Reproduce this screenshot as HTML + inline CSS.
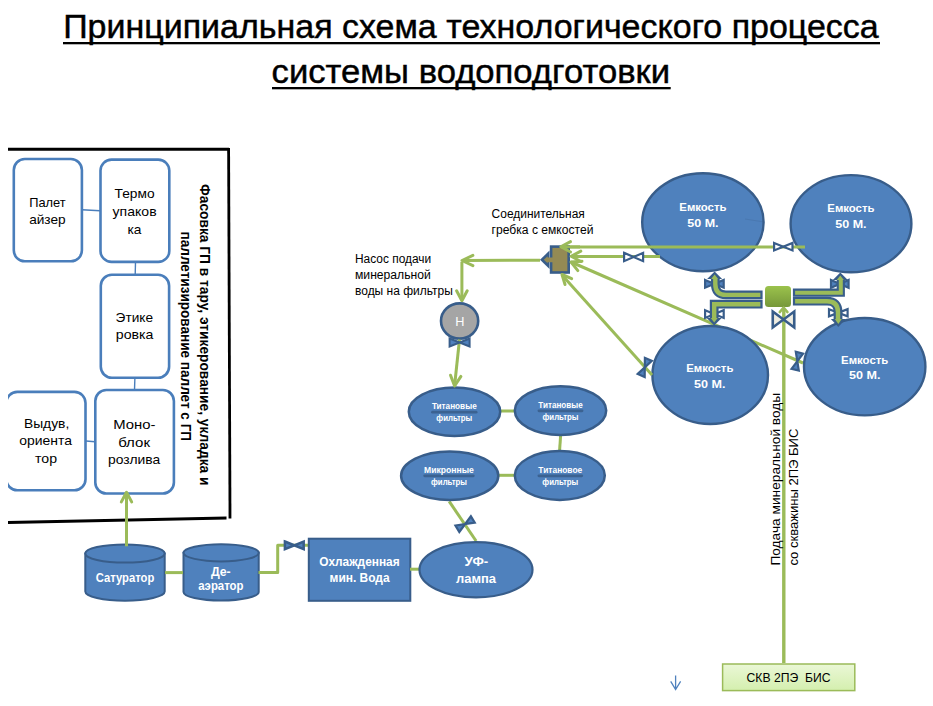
<!DOCTYPE html><html><head><meta charset="utf-8"><style>html,body{margin:0;padding:0;background:#fff;width:933px;height:706px;overflow:hidden;position:relative}text{font-family:"Liberation Sans",sans-serif;white-space:pre}</style></head><body><svg width="933" height="706" viewBox="0 0 933 706" style="position:absolute;left:0;top:0">
<defs><linearGradient id="gsq" x1="0" y1="0" x2="0" y2="1"><stop offset="0" stop-color="#9bc24c"/><stop offset="1" stop-color="#76983a"/></linearGradient><linearGradient id="gskv" x1="0" y1="0" x2="0" y2="1"><stop offset="0" stop-color="#eaf7d6"/><stop offset="1" stop-color="#d4efae"/></linearGradient><clipPath id="clipL"><rect x="8" y="0" width="300" height="706"/></clipPath></defs>
<g font-family="Liberation Sans, sans-serif">
<text x="63.2" y="38.3" font-size="33" font-weight="normal" fill="#000" text-anchor="start" textLength="815.5" lengthAdjust="spacingAndGlyphs" stroke="#000" stroke-width="0.45">Принципиальная схема технологического процесса</text>
<rect x="63" y="42" width="817" height="2.3" fill="#000"/>
<text x="271.6" y="83.2" font-size="33" font-weight="normal" fill="#000" text-anchor="start" textLength="398.5" lengthAdjust="spacingAndGlyphs" stroke="#000" stroke-width="0.45">системы водоподготовки</text>
<rect x="272" y="87" width="398.7" height="2.3" fill="#000"/>
<line x1="8" y1="149.3" x2="229" y2="149.3" stroke="#000" stroke-width="3"/>
<line x1="228.6" y1="148" x2="230" y2="518.5" stroke="#000" stroke-width="2.8"/>
<line x1="8" y1="522.4" x2="226.5" y2="518" stroke="#000" stroke-width="3"/>
<line x1="82" y1="209.8" x2="100" y2="210.8" stroke="#4a7ebb" stroke-width="1.4"/>
<line x1="135.5" y1="262" x2="135.2" y2="275" stroke="#4a7ebb" stroke-width="1.4"/>
<line x1="134.9" y1="378" x2="134.5" y2="390" stroke="#4a7ebb" stroke-width="1.4"/>
<line x1="86" y1="441" x2="95" y2="441.8" stroke="#4a7ebb" stroke-width="1.4"/>
<rect x="13.8" y="159.0" width="68.10000000000001" height="102.30000000000004" rx="11" ry="11" fill="#fff" stroke="#4a7ebb" stroke-width="2.6" />
<rect x="100.5" y="159.60000000000002" width="68.8" height="102.29999999999998" rx="11" ry="11" fill="#fff" stroke="#4a7ebb" stroke-width="2.6" />
<rect x="100.8" y="274.8" width="68.30000000000001" height="102.9" rx="11" ry="11" fill="#fff" stroke="#4a7ebb" stroke-width="2.6" />
<rect x="6.3" y="391.90000000000003" width="79.2" height="98.29999999999998" rx="11" ry="11" fill="#fff" stroke="#4a7ebb" stroke-width="2.6" clip-path="url(#clipL)"/>
<rect x="95.3" y="390.0" width="78.6" height="103.50000000000003" rx="11" ry="11" fill="#fff" stroke="#4a7ebb" stroke-width="2.6" />
<text x="47.4" y="207" font-size="13.2" font-weight="normal" fill="#000" text-anchor="middle" textLength="36.5" lengthAdjust="spacingAndGlyphs" >Палет</text>
<text x="47.4" y="223.6" font-size="13.2" font-weight="normal" fill="#000" text-anchor="middle" textLength="36.5" lengthAdjust="spacingAndGlyphs" >айзер</text>
<text x="134.6" y="198.2" font-size="13.2" font-weight="normal" fill="#000" text-anchor="middle" textLength="40" lengthAdjust="spacingAndGlyphs" >Термо</text>
<text x="134.6" y="215.8" font-size="13.2" font-weight="normal" fill="#000" text-anchor="middle" textLength="44" lengthAdjust="spacingAndGlyphs" >упаков</text>
<text x="134.4" y="233.5" font-size="13.2" font-weight="normal" fill="#000" text-anchor="middle" textLength="14" lengthAdjust="spacingAndGlyphs" >ка</text>
<text x="134.3" y="322.1" font-size="13.2" font-weight="normal" fill="#000" text-anchor="middle" textLength="37.4" lengthAdjust="spacingAndGlyphs" >Этике</text>
<text x="134.6" y="339.4" font-size="13.2" font-weight="normal" fill="#000" text-anchor="middle" textLength="37.7" lengthAdjust="spacingAndGlyphs" >ровка</text>
<text x="46.6" y="427.8" font-size="13.2" font-weight="normal" fill="#000" text-anchor="middle" textLength="45.3" lengthAdjust="spacingAndGlyphs" >Выдув,</text>
<text x="45.6" y="445.4" font-size="13.2" font-weight="normal" fill="#000" text-anchor="middle" textLength="52.7" lengthAdjust="spacingAndGlyphs" >ориента</text>
<text x="46" y="463" font-size="13.2" font-weight="normal" fill="#000" text-anchor="middle" textLength="22" lengthAdjust="spacingAndGlyphs" >тор</text>
<text x="134.3" y="429.2" font-size="13.2" font-weight="normal" fill="#000" text-anchor="middle" textLength="42.2" lengthAdjust="spacingAndGlyphs" >Моно-</text>
<text x="134.1" y="446.6" font-size="13.2" font-weight="normal" fill="#000" text-anchor="middle" textLength="31.8" lengthAdjust="spacingAndGlyphs" >блок</text>
<text x="134.1" y="464" font-size="13.2" font-weight="normal" fill="#000" text-anchor="middle" textLength="52.2" lengthAdjust="spacingAndGlyphs" >розлива</text>
<text transform="translate(199.5,184) rotate(90)" font-size="14.1" font-weight="bold" textLength="301.5" lengthAdjust="spacingAndGlyphs">Фасовка ГП в тару, этикерование, укладка и</text>
<text transform="translate(181,231.6) rotate(90)" font-size="14.1" font-weight="bold" textLength="209.5" lengthAdjust="spacingAndGlyphs">паллетизирование паллет с ГП</text>
<path d="M85.30000000000001,553.5 L85.30000000000001,591.6 A39.699999999999996,9.100000000000023 0 0 0 164.7,591.6 L164.7,553.5 Z" fill="#4f81bd" stroke="#385d8a" stroke-width="2"/>
<ellipse cx="125.0" cy="553.5" rx="39.699999999999996" ry="9.100000000000023" fill="#4f81bd" stroke="#385d8a" stroke-width="2"/>
<path d="M183.5,552.8 L183.5,591.9000000000001 A37.599999999999994,8.599999999999966 0 0 0 258.7,591.9000000000001 L258.7,552.8 Z" fill="#4f81bd" stroke="#385d8a" stroke-width="2"/>
<ellipse cx="221.1" cy="552.8" rx="37.599999999999994" ry="8.599999999999966" fill="#4f81bd" stroke="#385d8a" stroke-width="2"/>
<polyline points="126.5,546.3 126.5,493" fill="none" stroke="#9bbb59" stroke-width="3" stroke-linejoin="round"/>
<polyline points="121.34,501.91 126.5,492.2 131.66,501.91" fill="none" stroke="#9bbb59" stroke-width="3" stroke-linecap="round" stroke-linejoin="round"/>
<polyline points="165,572.6 183,572.6" fill="none" stroke="#9bbb59" stroke-width="3" stroke-linejoin="round"/>
<polyline points="258.5,572.6 277.7,572.6 277.7,545.3 309,545.3" fill="none" stroke="#9bbb59" stroke-width="3" stroke-linejoin="round"/>
<path transform="translate(294.3,545.3) rotate(0)" d="M-9.4,-3.8 L9.4,3.8 L9.4,-3.8 L-9.4,3.8 Z" fill="#4f81bd" stroke="#385d8a" stroke-width="2.5" stroke-linejoin="miter"/>
<text x="125" y="582.2" font-size="12.4" font-weight="bold" fill="#fff" text-anchor="middle" textLength="58.5" lengthAdjust="spacingAndGlyphs" >Сатуратор</text>
<text x="220.8" y="575.8" font-size="12.4" font-weight="bold" fill="#fff" text-anchor="middle" textLength="19.8" lengthAdjust="spacingAndGlyphs" >Де-</text>
<text x="220.9" y="589.8" font-size="12.4" font-weight="bold" fill="#fff" text-anchor="middle" textLength="45.2" lengthAdjust="spacingAndGlyphs" >аэратор</text>
<rect x="308.8" y="538.7" width="101.5" height="62.1" fill="#4f81bd" stroke="#385d8a" stroke-width="2"/>
<text x="359.4" y="565.8" font-size="12.4" font-weight="bold" fill="#fff" text-anchor="middle" textLength="80.5" lengthAdjust="spacingAndGlyphs" >Охлажденная</text>
<text x="359.6" y="581.8" font-size="12.4" font-weight="bold" fill="#fff" text-anchor="middle" textLength="60" lengthAdjust="spacingAndGlyphs" >мин. Вода</text>
<polyline points="410,569.2 420,569.2" fill="none" stroke="#9bbb59" stroke-width="3" stroke-linejoin="round"/>
<polyline points="449.2,501.4 476.1,541" fill="none" stroke="#9bbb59" stroke-width="3" stroke-linejoin="round"/>
<ellipse cx="476" cy="569.8" rx="56.5" ry="27.6" fill="#4f81bd" stroke="#385d8a" stroke-width="2.2"/>
<path transform="translate(465.1,524.1) rotate(-31)" d="M-9.0,-3.75 L9.0,3.75 L9.0,-3.75 L-9.0,3.75 Z" fill="#4f81bd" stroke="#385d8a" stroke-width="2.2" stroke-linejoin="miter"/>
<text x="476.4" y="565.5" font-size="12.4" font-weight="bold" fill="#fff" text-anchor="middle" textLength="23.6" lengthAdjust="spacingAndGlyphs" >УФ-</text>
<text x="476" y="582.6" font-size="12.4" font-weight="bold" fill="#fff" text-anchor="middle" textLength="40" lengthAdjust="spacingAndGlyphs" >лампа</text>
<polyline points="500,411 515,411" fill="none" stroke="#9bbb59" stroke-width="3" stroke-linejoin="round"/>
<polyline points="560.7,434 559.5,452" fill="none" stroke="#9bbb59" stroke-width="3" stroke-linejoin="round"/>
<polyline points="498,475.3 515,475.3" fill="none" stroke="#9bbb59" stroke-width="3" stroke-linejoin="round"/>
<ellipse cx="454.5" cy="411.7" rx="45.7" ry="24.2" fill="#4f81bd" stroke="#385d8a" stroke-width="2.5"/>
<ellipse cx="560.5" cy="410.6" rx="45.7" ry="24.4" fill="#4f81bd" stroke="#385d8a" stroke-width="2.5"/>
<ellipse cx="449.7" cy="475.7" rx="48.6" ry="24.3" fill="#4f81bd" stroke="#385d8a" stroke-width="2.5"/>
<ellipse cx="559.8" cy="475.5" rx="45" ry="24.4" fill="#4f81bd" stroke="#385d8a" stroke-width="2.5"/>
<rect x="431.1" y="410.79999999999995" width="46.4" height="2.8" rx="1.4" fill="#3b6291"/>
<text x="454.3" y="409.4" font-size="8.6" font-weight="bold" fill="#fff" text-anchor="middle" textLength="44.8" lengthAdjust="spacingAndGlyphs" >Титановые</text>
<text x="454.3" y="420.9" font-size="8.6" font-weight="bold" fill="#fff" text-anchor="middle" textLength="36" lengthAdjust="spacingAndGlyphs" >фильтры</text>
<rect x="537.5500000000001" y="409.4" width="45.9" height="2.8" rx="1.4" fill="#3b6291"/>
<text x="560.5" y="408" font-size="8.6" font-weight="bold" fill="#fff" text-anchor="middle" textLength="44.3" lengthAdjust="spacingAndGlyphs" >Титановые</text>
<text x="560.5" y="419.6" font-size="8.6" font-weight="bold" fill="#fff" text-anchor="middle" textLength="36" lengthAdjust="spacingAndGlyphs" >фильтры</text>
<rect x="423.3" y="474.4" width="51.4" height="2.8" rx="1.4" fill="#3b6291"/>
<text x="449" y="473" font-size="8.6" font-weight="bold" fill="#fff" text-anchor="middle" textLength="49.8" lengthAdjust="spacingAndGlyphs" >Микронные</text>
<text x="449" y="484.7" font-size="8.6" font-weight="bold" fill="#fff" text-anchor="middle" textLength="36" lengthAdjust="spacingAndGlyphs" >фильтры</text>
<rect x="537.5" y="474.4" width="45.6" height="2.8" rx="1.4" fill="#3b6291"/>
<text x="560.3" y="473" font-size="8.6" font-weight="bold" fill="#fff" text-anchor="middle" textLength="44" lengthAdjust="spacingAndGlyphs" >Титановое</text>
<text x="560.3" y="484.7" font-size="8.6" font-weight="bold" fill="#fff" text-anchor="middle" textLength="36" lengthAdjust="spacingAndGlyphs" >фильтры</text>
<text x="355" y="263.3" font-size="12" font-weight="normal" fill="#000" text-anchor="start" textLength="76.2" lengthAdjust="spacingAndGlyphs" >Насос подачи</text>
<text x="355" y="279" font-size="12" font-weight="normal" fill="#000" text-anchor="start" textLength="75.8" lengthAdjust="spacingAndGlyphs" >минеральной</text>
<text x="355" y="294.8" font-size="12" font-weight="normal" fill="#000" text-anchor="start" textLength="97.8" lengthAdjust="spacingAndGlyphs" >воды на фильтры</text>
<polyline points="540,260.2 463,260.4" fill="none" stroke="#9bbb59" stroke-width="3" stroke-linejoin="round"/>
<polyline points="472.88,265.57 462,260.5 472.88,255.43" fill="none" stroke="#9bbb59" stroke-width="3" stroke-linecap="round" stroke-linejoin="round"/>
<polyline points="461.9,262 461.9,300" fill="none" stroke="#9bbb59" stroke-width="3" stroke-linejoin="round"/>
<polyline points="467.21,290.72 461.9,300.7 456.59,290.72" fill="none" stroke="#9bbb59" stroke-width="3" stroke-linecap="round" stroke-linejoin="round"/>
<ellipse cx="459.6" cy="321" rx="18.6" ry="17.6" fill="#a5a5a5" stroke="#385d8a" stroke-width="2.6"/>
<polyline points="459.5,339.5 454.6,385.5" fill="none" stroke="#9bbb59" stroke-width="3" stroke-linejoin="round"/>
<path transform="translate(459.6,342.5) rotate(0)" d="M-10.0,-4.0 L10.0,4.0 L10.0,-4.0 L-10.0,4.0 Z" fill="#4f81bd" stroke="#385d8a" stroke-width="2" stroke-linejoin="miter"/>
<polyline points="460.91,376.39 454.6,386 450.53,375.24" fill="none" stroke="#9bbb59" stroke-width="3" stroke-linecap="round" stroke-linejoin="round"/>
<text x="459.8" y="325.8" font-size="12.3" font-weight="normal" fill="#fff" text-anchor="middle" textLength="9.2" lengthAdjust="spacingAndGlyphs" >Н</text>
<text x="491.6" y="218.3" font-size="12" font-weight="normal" fill="#000" text-anchor="start" textLength="93.2" lengthAdjust="spacingAndGlyphs" >Соединительная</text>
<text x="491.6" y="233.8" font-size="12" font-weight="normal" fill="#000" text-anchor="start" textLength="101.8" lengthAdjust="spacingAndGlyphs" >гребка с емкостей</text>
<path d="M540,259.8 L549.5,250.5 L549.5,269 Z" fill="#385d8a"/>
<polyline points="571,262 803,363" fill="none" stroke="#9bbb59" stroke-width="3" stroke-linejoin="round"/>
<ellipse cx="702.9" cy="222.2" rx="60.7" ry="49" fill="#4f81bd" stroke="#385d8a" stroke-width="2.4"/>
<ellipse cx="851" cy="223.7" rx="60.4" ry="48.6" fill="#4f81bd" stroke="#385d8a" stroke-width="2.4"/>
<ellipse cx="710.2" cy="375" rx="57.8" ry="49" fill="#4f81bd" stroke="#385d8a" stroke-width="2.4"/>
<ellipse cx="864.7" cy="366.7" rx="60.7" ry="48.7" fill="#4f81bd" stroke="#385d8a" stroke-width="2.4"/>
<line x1="745" y1="219" x2="764" y2="222" stroke="#385d8a" stroke-width="0.8" opacity="0.3"/>
<text x="702.9" y="211" font-size="11.6" font-weight="bold" fill="#fff" text-anchor="middle" textLength="47.2" lengthAdjust="spacingAndGlyphs" >Емкость</text>
<text x="702.9" y="226.7" font-size="11.6" font-weight="bold" fill="#fff" text-anchor="middle" textLength="31.4" lengthAdjust="spacingAndGlyphs" >50 М.</text>
<text x="850.9" y="211.8" font-size="11.6" font-weight="bold" fill="#fff" text-anchor="middle" textLength="47.2" lengthAdjust="spacingAndGlyphs" >Емкость</text>
<text x="850.9" y="227.5" font-size="11.6" font-weight="bold" fill="#fff" text-anchor="middle" textLength="31.4" lengthAdjust="spacingAndGlyphs" >50 М.</text>
<text x="709.8" y="371.7" font-size="11.6" font-weight="bold" fill="#fff" text-anchor="middle" textLength="47.2" lengthAdjust="spacingAndGlyphs" >Емкость</text>
<text x="709.8" y="387.8" font-size="11.6" font-weight="bold" fill="#fff" text-anchor="middle" textLength="31.4" lengthAdjust="spacingAndGlyphs" >50 М.</text>
<text x="864.7" y="363.5" font-size="11.6" font-weight="bold" fill="#fff" text-anchor="middle" textLength="47.2" lengthAdjust="spacingAndGlyphs" >Емкость</text>
<text x="864.7" y="378.8" font-size="11.6" font-weight="bold" fill="#fff" text-anchor="middle" textLength="31.4" lengthAdjust="spacingAndGlyphs" >50 М.</text>
<polyline points="561,246.9 805,247.1" fill="none" stroke="#9bbb59" stroke-width="3" stroke-linejoin="round"/>
<path transform="translate(783.3,246.7) rotate(0)" d="M-9.2,-3.7 L9.2,3.7 L9.2,-3.7 L-9.2,3.7 Z" fill="#fff" stroke="#385d8a" stroke-width="2.2" stroke-linejoin="miter"/>
<polyline points="571,256.4 660,256.6" fill="none" stroke="#9bbb59" stroke-width="3" stroke-linejoin="round"/>
<path transform="translate(633.6,257) rotate(0)" d="M-9.5,-4.15 L9.5,4.15 L9.5,-4.15 L-9.5,4.15 Z" fill="#fff" stroke="#385d8a" stroke-width="2.2" stroke-linejoin="miter"/>
<polyline points="562,275 652,375" fill="none" stroke="#9bbb59" stroke-width="3" stroke-linejoin="round"/>
<path transform="translate(644.8,367.4) rotate(-66)" d="M-8.8,-3.8 L8.8,3.8 L8.8,-3.8 L-8.8,3.8 Z" fill="#4f81bd" stroke="#385d8a" stroke-width="2.2" stroke-linejoin="miter"/>
<path transform="translate(797.3,361.2) rotate(-76)" d="M-8.8,-3.75 L8.8,3.75 L8.8,-3.75 L-8.8,3.75 Z" fill="#4f81bd" stroke="#385d8a" stroke-width="2.2" stroke-linejoin="miter"/>
<rect x="551.1" y="246.6" width="17.6" height="25.9" fill="#948a54" stroke="#385d8a" stroke-width="2.6"/>
<path d="M543.8,259.8 L547.6,256.3 L547.6,257.4 L553,257.4 L553,262.2 L547.6,262.2 L547.6,263.3 Z" fill="#948a54"/>
<polyline points="561,246.9 580,246.9" fill="none" stroke="#9bbb59" stroke-width="3" stroke-linejoin="round"/>
<polyline points="570.51,251.96 560.8,246.8 570.51,241.64" fill="none" stroke="#9bbb59" stroke-width="3" stroke-linecap="round" stroke-linejoin="round"/>
<polyline points="580.81,261.46 571.1,256.3 580.81,251.14" fill="none" stroke="#9bbb59" stroke-width="3" stroke-linecap="round" stroke-linejoin="round"/>
<polyline points="577.84,270.61 571,262 581.97,261.14" fill="none" stroke="#9bbb59" stroke-width="3" stroke-linecap="round" stroke-linejoin="round"/>
<polyline points="565.04,284.55 562,274.5 571.65,278.63" fill="none" stroke="#9bbb59" stroke-width="3" stroke-linecap="round" stroke-linejoin="round"/>
<path transform="translate(714.4,283.85) rotate(0)" d="M-9.3,-3.85 L9.3,3.85 L9.3,-3.85 L-9.3,3.85 Z" fill="#4f81bd" stroke="#385d8a" stroke-width="2.2" stroke-linejoin="miter"/>
<path transform="translate(714.4,314.05) rotate(0)" d="M-9.3,-3.85 L9.3,3.85 L9.3,-3.85 L-9.3,3.85 Z" fill="#fff" stroke="#385d8a" stroke-width="2.2" stroke-linejoin="miter"/>
<path transform="translate(839.8,283.85) rotate(0)" d="M-8.8,-3.85 L8.8,3.85 L8.8,-3.85 L-8.8,3.85 Z" fill="#4f81bd" stroke="#385d8a" stroke-width="2.2" stroke-linejoin="miter"/>
<path transform="translate(838.3,312.8) rotate(0)" d="M-9.3,-3.6 L9.3,3.6 L9.3,-3.6 L-9.3,3.6 Z" fill="#fff" stroke="#385d8a" stroke-width="2.2" stroke-linejoin="miter"/>
<path d="M762.6,294.9 L726,294.9 Q715.3,294.9 715.3,284 L715.3,279" fill="none" stroke="#385d8a" stroke-width="8.8" stroke-linejoin="miter"/>
<path d="M760.4,294.9 L726,294.9 Q715.3,294.9 715.3,284 L715.3,279" fill="none" stroke="#9bbb59" stroke-width="4.4" stroke-linejoin="miter"/>
<path d="M762.6,304.2 L714.2,304.2 L714.2,319" fill="none" stroke="#385d8a" stroke-width="8.8" stroke-linejoin="miter"/>
<path d="M760.4,304.2 L714.2,304.2 L714.2,319" fill="none" stroke="#9bbb59" stroke-width="4.4" stroke-linejoin="miter"/>
<path d="M792.9,292.7 L840.8,292.7 L840.8,279" fill="none" stroke="#385d8a" stroke-width="8.2" stroke-linejoin="miter"/>
<path d="M795.1,292.7 L840.8,292.7 L840.8,279" fill="none" stroke="#9bbb59" stroke-width="4" stroke-linejoin="miter"/>
<path d="M792.9,301.2 L827,301.2 Q838,301.2 838,312 L838,320" fill="none" stroke="#385d8a" stroke-width="8.8" stroke-linejoin="miter"/>
<path d="M795.1,301.2 L827,301.2 Q838,301.2 838,312 L838,320" fill="none" stroke="#9bbb59" stroke-width="4.4" stroke-linejoin="miter"/>
<path d="M707.1,279 L714.6,271.4 L722.1,279 Z" fill="#385d8a"/>
<path d="M711.1,279 L714.6,274.4 L718.1,279 Z" fill="#9bbb59"/>
<path d="M706.7,318 L714.2,325.5 L721.7,318 Z" fill="#385d8a"/>
<path d="M710.7,318 L714.2,322.5 L717.7,318 Z" fill="#9bbb59"/>
<path d="M832.8,280 L840.3,272.4 L847.8,280 Z" fill="#385d8a"/>
<path d="M836.8,280 L840.3,275.4 L843.8,280 Z" fill="#9bbb59"/>
<path d="M830.8,319 L838.3,326.9 L845.8,319 Z" fill="#385d8a"/>
<path d="M834.8,319 L838.3,323.9 L841.8,319 Z" fill="#9bbb59"/>
<rect x="765" y="286" width="26" height="21.1" rx="3.5" fill="url(#gsq)"/>
<polyline points="783.8,663 783.8,309" fill="none" stroke="#9bbb59" stroke-width="3.4" stroke-linejoin="round"/>
<polyline points="779.74,312.10 783.6,307.5 787.46,312.10" fill="none" stroke="#9bbb59" stroke-width="2.5" stroke-linecap="round" stroke-linejoin="round"/>
<path transform="translate(783.5,319.5) rotate(0)" d="M-10.75,-8.0 L10.75,8.0 L10.75,-8.0 L-10.75,8.0 Z" fill="#eeece1" stroke="#385d8a" stroke-width="2.6" stroke-linejoin="miter"/>
<text transform="translate(780.4,565.6) rotate(-90)" font-size="13.3" textLength="172.8" lengthAdjust="spacingAndGlyphs">Подача минеральной воды</text>
<text transform="translate(798,565.6) rotate(-90)" font-size="13.7" textLength="137" lengthAdjust="spacingAndGlyphs">со скважины 2ПЭ БИС</text>
<rect x="722.6" y="664" width="132.2" height="26.6" fill="url(#gskv)" stroke="#9bbb59" stroke-width="1.5"/>
<text x="788.5" y="682.2" font-size="13" font-weight="normal" fill="#000" text-anchor="middle" textLength="84" lengthAdjust="spacingAndGlyphs" >СКВ 2ПЭ  БИС</text>
<path d="M675.6,675.4 L675.6,689.5 M670.7,681.4 L675.6,689.5 L680.6,681.4" fill="none" stroke="#4f81bd" stroke-width="1.3"/>
</g></svg></body></html>
